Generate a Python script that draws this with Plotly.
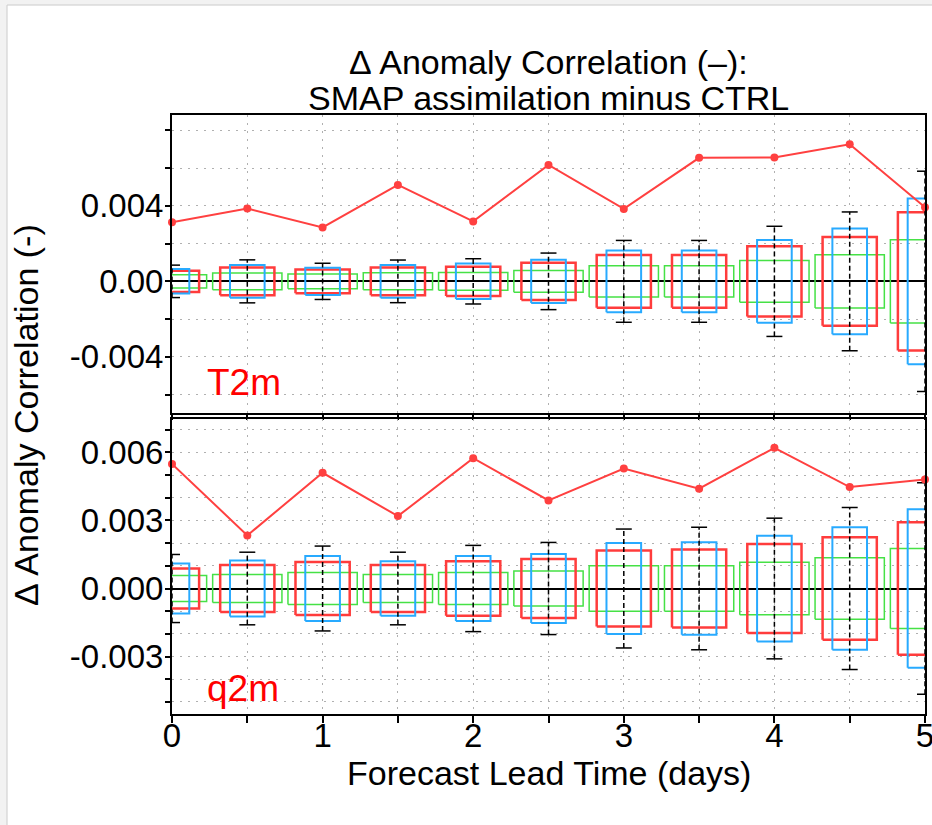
import plotly.graph_objects as go
from plotly.subplots import make_subplots

# ---------------- data ----------------
lead_days = [0, 0.5, 1, 1.5, 2, 2.5, 3, 3.5, 4, 4.5, 5]

t2m_mean = [0.00313, 0.00386, 0.00286, 0.00511, 0.00318, 0.00617, 0.00384, 0.00655, 0.00657, 0.00727, 0.00393]
t2m_green = [0.00035, 0.00044, 0.00039, 0.00045, 0.00047, 0.00058, 0.00083, 0.00083, 0.00111, 0.00141, 0.00221]
t2m_red = [0.00056, 0.00074, 0.00063, 0.00074, 0.00077, 0.00099, 0.00140, 0.00140, 0.00186, 0.00235, 0.00366]
t2m_blue = [0.00065, 0.00087, 0.00072, 0.00087, 0.00094, 0.00115, 0.00164, 0.00164, 0.00219, 0.00280, 0.00439]
t2m_err = [0.00086, 0.00114, 0.00096, 0.00113, 0.00120, 0.00150, 0.00217, 0.00217, 0.00292, 0.00368, 0.00584]

q2m_mean = [0.00549, 0.00234, 0.00510, 0.00319, 0.00574, 0.00388, 0.00529, 0.00440, 0.00620, 0.00447, 0.00480]
q2m_green = [0.00057, 0.00062, 0.00070, 0.00062, 0.00070, 0.00077, 0.00100, 0.00100, 0.00116, 0.00136, 0.00176]
q2m_red = [0.00088, 0.00104, 0.00117, 0.00104, 0.00120, 0.00130, 0.00167, 0.00172, 0.00196, 0.00226, 0.00292]
q2m_blue = [0.00110, 0.00123, 0.00143, 0.00120, 0.00143, 0.00152, 0.00200, 0.00204, 0.00233, 0.00270, 0.00349]
q2m_err = [0.00150, 0.00160, 0.00187, 0.00160, 0.00190, 0.00203, 0.00262, 0.00270, 0.00310, 0.00357, 0.00466]

x_tickvals = [0, 0.5, 1, 1.5, 2, 2.5, 3, 3.5, 4, 4.5, 5]
x_ticktext = ["0", "", "1", "", "2", "", "3", "", "4", "", "5"]
t2m_tickvals = [-0.006, -0.004, -0.002, 0.0, 0.002, 0.004, 0.006, 0.008]
t2m_ticktext = ["", "-0.004", "", "0.00", "", "0.004", "", ""]
q2m_tickvals = [-0.005, -0.004, -0.003, -0.002, -0.001, 0.0, 0.001, 0.002, 0.003, 0.004, 0.005, 0.006, 0.007]
q2m_ticktext = ["", "", "-0.003", "", "", "0.000", "", "", "0.003", "", "", "0.006", ""]

# ---------------- style ----------------
FONT = "Liberation Sans, Arial, sans-serif"
RED = "rgb(255,60,60)"
BLUE = "rgb(40,170,255)"
GREEN = "rgb(70,225,70)"
HW_GREEN, HW_RED, HW_BLUE, HW_CAP = 0.23, 0.18, 0.115, 0.053

fig = make_subplots(rows=2, cols=1, shared_xaxes=True, vertical_spacing=0.01)


def boxes(xc, half_h, hw):
    xs, ys = [], []
    for c, h in zip(xc, half_h):
        xs += [c - hw, c + hw, c + hw, c - hw, c - hw, None]
        ys += [-h, -h, h, h, -h, None]
    return xs, ys


def errbars(xc, err):
    vx, vy, cx, cy = [], [], [], []
    for c, e in zip(xc, err):
        vx += [c, c, None]
        vy += [-e, e, None]
        cx += [c - HW_CAP, c + HW_CAP, None, c - HW_CAP, c + HW_CAP, None]
        cy += [e, e, None, -e, -e, None]
    return vx, vy, cx, cy


panels = [
    (1, t2m_mean, t2m_green, t2m_red, t2m_blue, t2m_err),
    (2, q2m_mean, q2m_green, q2m_red, q2m_blue, q2m_err),
]
for row, mean, g, r, b, e in panels:
    for half, hw, col, wid in [(g, HW_GREEN, GREEN, 1.5), (r, HW_RED, RED, 2.5), (b, HW_BLUE, BLUE, 2)]:
        xs, ys = boxes(lead_days, half, hw)
        fig.add_trace(go.Scatter(x=xs, y=ys, mode="lines", line=dict(color=col, width=wid),
                                 hoverinfo="skip", showlegend=False), row=row, col=1)
    vx, vy, cx, cy = errbars(lead_days, e)
    fig.add_trace(go.Scatter(x=vx, y=vy, mode="lines", line=dict(color="black", width=1.5, dash="5px,3px"),
                             hoverinfo="skip", showlegend=False), row=row, col=1)
    fig.add_trace(go.Scatter(x=cx, y=cy, mode="lines", line=dict(color="black", width=1.5),
                             hoverinfo="skip", showlegend=False), row=row, col=1)
    fig.add_trace(go.Scatter(x=lead_days, y=mean, mode="lines+markers",
                             line=dict(color="rgb(255,64,64)", width=2),
                             marker=dict(color="rgb(255,64,64)", size=8),
                             showlegend=False, cliponaxis=False), row=row, col=1)

grid = dict(showgrid=True, gridcolor="#b0b0b0", gridwidth=1, griddash="2px,6px")
axline = dict(showline=True, linecolor="black", linewidth=2, mirror=True)
tickfont = dict(family=FONT, size=33, color="black")

fig.update_xaxes(range=[0, 5], tickvals=x_tickvals, ticktext=x_ticktext, ticks="outside",
                 ticklen=5, tickwidth=2, tickcolor="black", zeroline=False, automargin=False,
                 **grid, **axline)
fig.update_xaxes(showticklabels=False, row=1, col=1)
fig.update_xaxes(showticklabels=True, tickfont=tickfont, ticklen=7, ticklabelstandoff=-16,
                 ticklabeloverflow="allow", row=2, col=1)

fig.update_yaxes(ticks="outside", ticklen=5, tickwidth=1.5, tickcolor="black",
                 zeroline=True, zerolinecolor="black", zerolinewidth=2, automargin=False,
                 tickfont=tickfont, ticklabelstandoff=-5, **grid, **axline)
fig.update_yaxes(range=[-0.00698, 0.00882], tickvals=t2m_tickvals, ticktext=t2m_ticktext,
                 domain=[0.5025, 1.0], row=1, col=1)
fig.update_yaxes(range=[-0.00553, 0.00747], tickvals=q2m_tickvals, ticktext=q2m_ticktext,
                 domain=[0.0, 0.4925], row=2, col=1)

annos = [
    dict(text="\u0394 Anomaly Correlation (\u2013):", x=0.5, y=1.0885, xref="paper", yref="paper",
         xanchor="center", yanchor="middle", showarrow=False, font=dict(family=FONT, size=34, color="black")),
    dict(text="SMAP assimilation minus CTRL", x=0.5, y=1.0284, xref="paper", yref="paper",
         xanchor="center", yanchor="middle", showarrow=False, font=dict(family=FONT, size=34, color="black")),
    dict(text="Forecast Lead Time (days)", x=0.5, y=-0.099, xref="paper", yref="paper",
         xanchor="center", yanchor="middle", showarrow=False, font=dict(family=FONT, size=34, color="black")),
    dict(text="\u0394 Anomaly Correlation (-)", x=-0.1940, y=0.499, xref="paper", yref="paper",
         xanchor="center", yanchor="middle", textangle=-90, showarrow=False,
         font=dict(family=FONT, size=34, color="black")),
    dict(text="T2m", x=0.044, y=0.103, xref="x domain", yref="y domain",
         xanchor="left", yanchor="middle", showarrow=False, font=dict(family=FONT, size=37, color="#ff0000")),
    dict(text="q2m", x=0.044, y=0.088, xref="x2 domain", yref="y2 domain",
         xanchor="left", yanchor="middle", showarrow=False, font=dict(family=FONT, size=37, color="#ff0000")),
]

fig.update_layout(
    width=932, height=825,
    margin=dict(l=172, r=7, t=115, b=111, pad=0),
    paper_bgcolor="#f2f2f2",
    plot_bgcolor="rgba(0,0,0,0)",
    annotations=annos,
    shapes=[dict(type="rect", xref="paper", yref="paper", x0=-0.2191, x1=1.05, y0=-0.25, y1=1.1836,
                 fillcolor="white", line=dict(color="#cccccc", width=1), layer="below")],
    font=dict(family=FONT),
)

fig.write_html("out.html", config={"displayModeBar": False},
               post_script="document.body.style.margin='0px';document.body.style.overflow='hidden';")
